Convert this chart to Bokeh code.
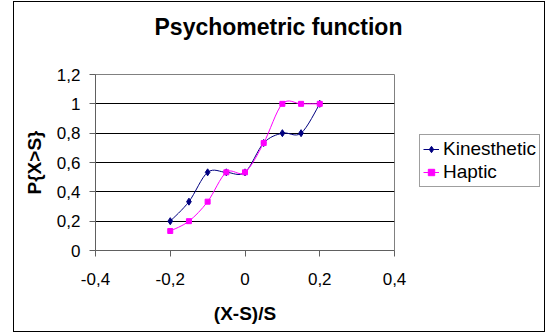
import numpy as np
from bokeh.plotting import figure
from bokeh.layouts import column, row
from bokeh.models import Legend, LegendItem, ColumnDataSource, FixedTicker, Label
from bokeh.embed import file_html
from bokeh.resources import INLINE

# ---- data ----
x_vals = [-0.2, -0.15, -0.1, -0.05, 0.0, 0.05, 0.1, 0.15, 0.2]
kinesthetic = [0.2, 0.333, 0.533, 0.533, 0.533, 0.733, 0.8, 0.8, 1.0]
haptic = [0.133, 0.2, 0.333, 0.533, 0.533, 0.733, 1.0, 1.0, 1.0]
x_ticks = [-0.4, -0.2, 0, 0.2, 0.4]
x_tick_labels = ["-0,4", "-0,2", "0", "0,2", "0,4"]
y_ticks = [0, 0.2, 0.4, 0.6, 0.8, 1, 1.2]
y_tick_labels = ["0", "0,2", "0,4", "0,6", "0,8", "1", "1,2"]
x_lim = [-0.4, 0.4]
y_lim = [0, 1.2]
series_names = ["Kinesthetic", "Haptic"]
series_colors = ["#000080", "#FF00FF"]
series_markers = ["diamond", "square"]
title_text = "Psychometric function"
x_label = "(X-S)/S"
y_label = "P{X>S}"

FONT = "Liberation Sans"

# ---- layout (pixels, inside the 1px chart border) ----
TOTAL_W, TOTAL_H = 530, 329
TITLE_H = 46
MAIN_W = 395
BODY_H = TOTAL_H - TITLE_H
LEG_W = TOTAL_W - MAIN_W


def smooth_segments(xs, ys):
    """Excel-like smoothing: Catmull-Rom control points for cubic Bezier segments."""
    x = np.asarray(xs, dtype=float)
    y = np.asarray(ys, dtype=float)
    n = len(x)
    xp = np.concatenate([[x[0]], x, [x[-1]]])
    yp = np.concatenate([[y[0]], y, [y[-1]]])
    return dict(
        x0=x[:-1], y0=y[:-1], x1=x[1:], y1=y[1:],
        cx0=x[:-1] + (xp[2:n + 1] - xp[0:n - 1]) / 6.0,
        cy0=y[:-1] + (yp[2:n + 1] - yp[0:n - 1]) / 6.0,
        cx1=x[1:] - (xp[3:n + 2] - xp[1:n]) / 6.0,
        cy1=y[1:] - (yp[3:n + 2] - yp[1:n]) / 6.0,
    )


def blank_figure(w, h, xr=(0, 1), yr=(0, 1)):
    f = figure(width=w, height=h, x_range=xr, y_range=yr,
               output_backend="svg", toolbar_location=None,
               x_axis_location=None, y_axis_location=None,
               min_border_left=0, min_border_right=0,
               min_border_top=0, min_border_bottom=0)
    f.xgrid.grid_line_color = None
    f.ygrid.grid_line_color = None
    f.outline_line_color = None
    f.background_fill_color = "white"
    f.border_fill_color = "white"
    return f


# ---- title ----
pt = blank_figure(TOTAL_W, TITLE_H)
pt.add_layout(Label(x=264, y=22, x_units="screen", y_units="screen",
                    text=title_text, text_font=FONT, text_font_size="23px",
                    text_font_style="bold", text_color="black",
                    text_align="center", text_baseline="alphabetic"))

# ---- main plot ----
p = figure(width=MAIN_W, height=BODY_H, x_range=tuple(x_lim), y_range=tuple(y_lim),
           output_backend="svg", toolbar_location=None,
           min_border_left=81, min_border_right=MAIN_W - 380,
           min_border_top=26, min_border_bottom=81)
p.background_fill_color = "white"
p.border_fill_color = "white"
p.outline_line_color = "#808080"
p.outline_line_width = 1

for ax in (p.xaxis[0], p.yaxis[0]):
    ax.axis_line_color = "#606060"
    ax.major_tick_line_color = "#606060"
    ax.major_tick_out = 6
    ax.major_tick_in = 0
    ax.minor_tick_line_color = None
    ax.major_label_text_font = FONT
    ax.major_label_text_font_size = "17px"
    ax.major_label_text_color = "black"
    ax.axis_label_text_font = FONT
    ax.axis_label_text_font_size = "19px"
    ax.axis_label_text_font_style = "bold"
    ax.axis_label_text_color = "black"

p.xaxis.ticker = FixedTicker(ticks=x_ticks)
p.yaxis.ticker = FixedTicker(ticks=y_ticks)
p.xaxis.major_label_overrides = dict(zip(x_ticks, x_tick_labels))
p.yaxis.major_label_overrides = dict(zip(y_ticks, y_tick_labels))
p.xaxis.axis_label = x_label
p.yaxis.axis_label = y_label
p.xaxis.major_label_standoff = 16
p.yaxis.major_label_standoff = 9
p.xaxis.axis_label_standoff = 15
p.yaxis.axis_label_standoff = 9

p.xgrid.grid_line_color = None
p.ygrid.grid_line_color = "black"
p.ygrid.grid_line_width = 1

for name, ys, col, marker, size in zip(series_names, [kinesthetic, haptic],
                                       series_colors, series_markers, [7, 5]):
    seg = ColumnDataSource(smooth_segments(x_vals, ys))
    p.bezier(x0="x0", y0="y0", x1="x1", y1="y1", cx0="cx0", cy0="cy0",
             cx1="cx1", cy1="cy1", source=seg, line_color=col, line_width=1)
    p.scatter(x_vals, ys, marker=marker, size=size, fill_color=col, line_color=col)

# ---- legend panel (its frame is aligned with the main plot's frame) ----
# The series are re-plotted here only to supply legend glyphs; the panel's
# ranges lie outside the data so they are not visible.
pl = blank_figure(LEG_W, BODY_H, xr=(1, 2), yr=(1, 2))
items = []
for name, ys, col, marker, size in zip(series_names, [kinesthetic, haptic],
                                       series_colors, series_markers, [7, 5]):
    lr = pl.line(x_vals, ys, line_color=col, line_width=1)
    sr = pl.scatter(x_vals, ys, marker=marker, size=size, fill_color=col, line_color=col)
    items.append(LegendItem(label=name, renderers=[lr, sr]))

legend = Legend(items=items, location=(10, 63))
legend.label_text_font = FONT
legend.label_text_font_size = "19px"
legend.label_text_color = "black"
legend.glyph_width = 16
legend.glyph_height = 18
legend.padding = 3
legend.spacing = 1
legend.label_standoff = 4
legend.margin = 0
legend.border_line_color = "#404040"
legend.border_line_width = 1
legend.background_fill_color = "white"
legend.background_fill_alpha = 1
pl.add_layout(legend)

layout = column(pt, row(p, pl))
layout.styles = {"border": "1px solid black", "margin-left": "13px",
                 "margin-top": "1px"}

open("out.html", "w").write(file_html(layout, INLINE))
